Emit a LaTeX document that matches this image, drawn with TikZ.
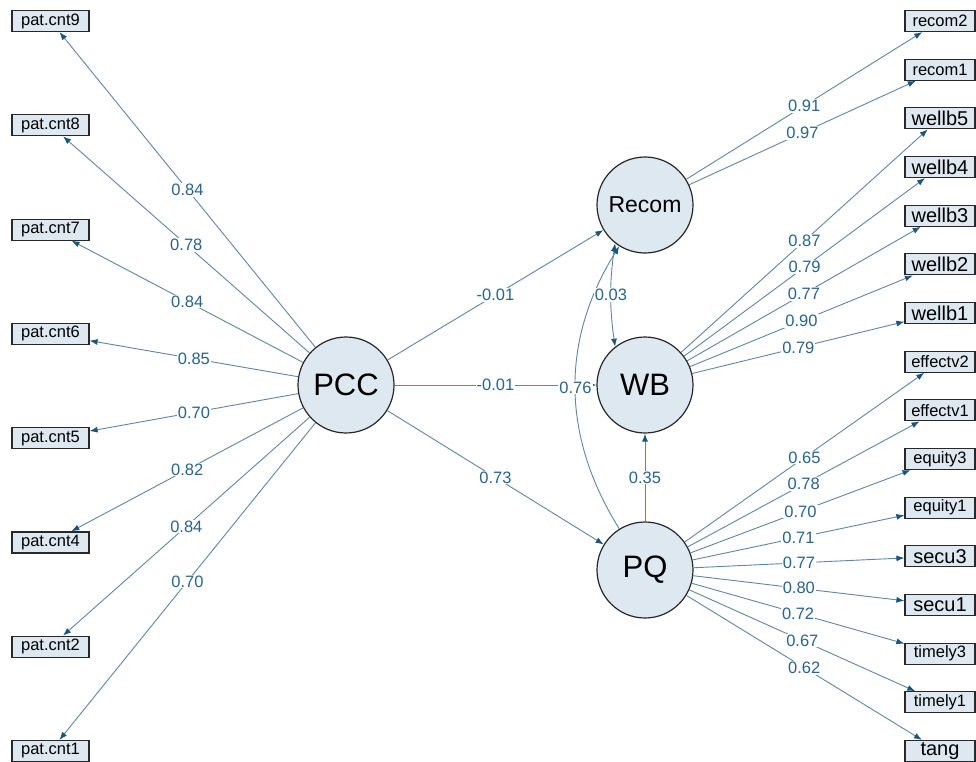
\documentclass[tikz,border=0pt]{standalone}
\usepackage{fontspec}
\setmainfont{Liberation Sans}
\usetikzlibrary{arrows.meta}
\definecolor{nodefill}{RGB}{221,232,241}
\definecolor{edgecol}{RGB}{95,135,160}
\definecolor{labcol}{RGB}{40,100,140}
\definecolor{tipcol}{RGB}{25,85,125}
\definecolor{bordercol}{RGB}{40,40,40}
\begin{document}
\begin{tikzpicture}[x=1pt,y=-1pt,
  latent/.style={circle,draw=bordercol,line width=1.2pt,fill=nodefill,minimum size=96pt,inner sep=0pt},
  manif/.style={rectangle,draw=bordercol,line width=1.2pt,fill=nodefill,minimum height=21pt,inner sep=0pt},
  leftbox/.style={manif,minimum width=77pt,font=\fontsize{16.5}{16.5}\selectfont},
  rsmall/.style={manif,minimum width=70pt,font=\fontsize{16.5}{16.5}\selectfont},
  rlarge/.style={manif,minimum width=70pt,font=\fontsize{20}{20}\selectfont},
  lnk/.style={draw=edgecol,line width=0.9pt,-{Latex[length=8pt,width=6pt,color=tipcol]}},
  cov/.style={draw=edgecol,line width=0.9pt,{Latex[length=8pt,width=6pt,color=tipcol]}-{Latex[length=8pt,width=6pt,color=tipcol]}},
  lab/.style={fill=white,text=labcol,inner sep=1pt,font=\fontsize{16.5}{16.5}\selectfont}
]
\useasboundingbox (0,0) rectangle (976,762);
\fill[white] (0,0) rectangle (976,762);

% latent variables
\node[latent,font=\fontsize{31}{31}\selectfont] (PCC) at (346,385) {PCC};
\node[latent,font=\fontsize{23}{23}\selectfont] (Recom) at (645,205) {Recom};
\node[latent,font=\fontsize{31}{31}\selectfont] (WB) at (645,385) {WB};
\node[latent,font=\fontsize{31}{31}\selectfont] (PQ) at (645,570) {PQ};

% left indicators
\node[leftbox] (p9) at (50.5,21) {pat.cnt9};
\node[leftbox] (p8) at (50.5,125.3) {pat.cnt8};
\node[leftbox] (p7) at (50.5,229.6) {pat.cnt7};
\node[leftbox] (p6) at (50.5,333.9) {pat.cnt6};
\node[leftbox] (p5) at (50.5,438.1) {pat.cnt5};
\node[leftbox] (p4) at (50.5,542.4) {pat.cnt4};
\node[leftbox] (p2) at (50.5,646.7) {pat.cnt2};
\node[leftbox] (p1) at (50.5,751) {pat.cnt1};

% right indicators
\node[rsmall] (r2) at (940,21) {recom2};
\node[rsmall] (r1) at (940,69.7) {recom1};
\node[rlarge] (w5) at (940,118.3) {wellb5};
\node[rlarge] (w4) at (940,167) {wellb4};
\node[rlarge] (w3) at (940,215.7) {wellb3};
\node[rlarge] (w2) at (940,264.3) {wellb2};
\node[rlarge] (w1) at (940,313) {wellb1};
\node[rsmall] (e2) at (940,361.7) {effectv2};
\node[rsmall] (e1) at (940,410.3) {effectv1};
\node[rsmall] (q3) at (940,459) {equity3};
\node[rsmall] (q1) at (940,507.7) {equity1};
\node[rlarge] (s3) at (940,556.3) {secu3};
\node[rlarge] (s1) at (940,605) {secu1};
\node[rsmall] (t3) at (940,653.7) {timely3};
\node[rsmall] (t1) at (940,702.3) {timely1};
\node[rlarge] (tg) at (940,751) {tang};

% PCC loadings
\draw[lnk] (PCC) -- node[lab]{0.84} (p9);
\draw[lnk] (PCC) -- node[lab]{0.78} (p8);
\draw[lnk] (PCC) -- node[lab]{0.84} (p7);
\draw[lnk] (PCC) -- node[lab]{0.85} (p6);
\draw[lnk] (PCC) -- node[lab]{0.70} (p5);
\draw[lnk] (PCC) -- node[lab]{0.82} (p4);
\draw[lnk] (PCC) -- node[lab]{0.84} (p2);
\draw[lnk] (PCC) -- node[lab]{0.70} (p1);

% Recom loadings
\draw[lnk] (Recom) -- node[lab]{0.91} (r2);
\draw[lnk] (Recom) -- node[lab]{0.97} (r1);

% WB loadings
\draw[lnk] (WB) -- node[lab]{0.87} (w5);
\draw[lnk] (WB) -- node[lab]{0.79} (w4);
\draw[lnk] (WB) -- node[lab]{0.77} (w3);
\draw[lnk] (WB) -- node[lab]{0.90} (w2);
\draw[lnk] (WB) -- node[lab]{0.79} (w1);

% PQ loadings
\draw[lnk] (PQ) -- node[lab]{0.65} (e2);
\draw[lnk] (PQ) -- node[lab]{0.78} (e1);
\draw[lnk] (PQ) -- node[lab]{0.70} (q3);
\draw[lnk] (PQ) -- node[lab]{0.71} (q1);
\draw[lnk] (PQ) -- node[lab]{0.77} (s3);
\draw[lnk] (PQ) -- node[lab]{0.80} (s1);
\draw[lnk] (PQ) -- node[lab]{0.72} (t3);
\draw[lnk] (PQ) -- node[lab]{0.67} (t1);
\draw[lnk] (PQ) -- node[lab]{0.62} (tg);

% structural paths
\draw[lnk] (PCC) -- node[lab]{-0.01} (Recom);
\draw[lnk] (PCC) -- node[lab]{-0.01} (WB);
\draw[lnk] (PCC) -- node[lab]{0.73} (PQ);
\draw[lnk] (PQ) -- node[lab]{0.35} (WB);
\draw[lnk] (PQ) to[bend left=32] node[lab]{0.76} (Recom);
\draw[cov] (Recom.232) to[bend right=8] node[lab]{0.03} (WB.128);
\end{tikzpicture}
\end{document}
